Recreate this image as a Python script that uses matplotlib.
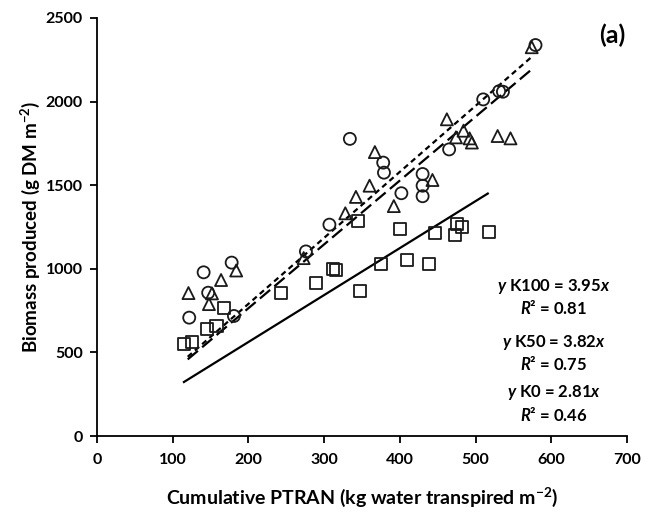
import matplotlib.pyplot as plt
import numpy as np

plt.rcParams["font.family"] = ["Lato", "DejaVu Sans"]
plt.rcParams["mathtext.fontset"] = "custom"
plt.rcParams["mathtext.rm"] = "Lato:bold"
plt.rcParams["mathtext.it"] = "Lato:italic:bold"
plt.rcParams["mathtext.bf"] = "Lato:bold"

# K100 (circles)
k100_x = [122, 141, 147, 178, 181, 276, 307, 334, 378, 379, 402, 430, 430, 430,
          465, 510, 531, 536, 579]
k100_y = [708, 979, 857, 1037, 718, 1104, 1264, 1777, 1635, 1575, 1452, 1567,
          1497, 1434, 1714, 2013, 2062, 2059, 2338]

# K50 (triangles)
k50_x = [121, 148, 152, 164, 184, 273, 328, 342, 360, 367, 392, 443, 462, 474,
         484, 492, 495, 529, 546, 574]
k50_y = [855, 789, 853, 933, 990, 1064, 1332, 1430, 1497, 1698, 1375, 1531,
         1894, 1786, 1826, 1780, 1755, 1794, 1780, 2325]

# K0 (squares)
k0_x = [115, 126, 145, 158, 168, 243, 289, 312, 316, 345, 348, 375, 400, 410,
        438, 446, 473, 476, 482, 517]
k0_y = [548, 560, 640, 660, 765, 853, 917, 999, 993, 1287, 870, 1031, 1240,
        1053, 1030, 1217, 1204, 1267, 1250, 1219]

# regression through origin
slopes = {"K100": 3.95, "K50": 3.82, "K0": 2.81}
r2 = {"K100": 0.81, "K50": 0.75, "K0": 0.46}
fit_range = {"K100": (120, 576), "K50": (120, 576), "K0": (115, 516)}

fig = plt.figure(figsize=(6.54, 5.13), dpi=100)
ax = fig.add_axes([0.148, 0.150, 0.811, 0.815])

mk = dict(facecolor="none", edgecolor="#1a1a1a", linewidths=1.3, s=75, zorder=3)
ax.scatter(k100_x, k100_y, marker="o", **mk)
ax.scatter(k50_x, k50_y, marker="^", **mk)
ax.scatter(k0_x, k0_y, marker="s", **mk)

styles = {
    "K100": dict(linestyle=(0, (2.5, 1.8))),
    "K50": dict(linestyle=(0, (6, 2.5))),
    "K0": dict(linestyle="-"),
}
for key in ["K100", "K50", "K0"]:
    xs = np.array(fit_range[key], dtype=float)
    ax.plot(xs, slopes[key] * xs, color="black", lw=1.6, zorder=2, **styles[key])

ax.set_xlim(0, 700)
ax.set_ylim(0, 2500)
ax.set_xticks(range(0, 701, 100))
ax.set_yticks(range(0, 2501, 500))
for side in ["top", "right"]:
    ax.spines[side].set_visible(False)
for side in ["left", "bottom"]:
    ax.spines[side].set_linewidth(1.3)
ax.tick_params(direction="out", length=5, width=1.3, labelsize=11.5, pad=7)
ax.tick_params(axis="y", pad=5)
for lbl in ax.get_xticklabels() + ax.get_yticklabels():
    lbl.set_fontweight("bold")

ax.set_xlabel("Cumulative PTRAN (kg water transpired m$^{\\mathbf{-2}}$)",
              fontsize=14, fontweight="bold", labelpad=14)
ax.set_ylabel("Biomass produced (g DM m$^{\\mathbf{-2}}$)",
              fontsize=13.5, fontweight="bold", labelpad=3)

ypos = {"K100": 895, "K50": 562, "K0": 258}
for key in ["K100", "K50", "K0"]:
    yy = ypos[key]
    ax.text(603, yy, f"$\\mathit{{y}}$ {key} = {slopes[key]:.2f}$\\mathit{{x}}$",
            ha="center", va="center", fontsize=12, fontweight="bold")
    ax.text(603, yy - 130, f"$\\mathit{{R}}$² = {r2[key]:.2f}",
            ha="center", va="center", fontsize=12, fontweight="bold")

ax.text(697, 2395, "(a)", ha="right", va="center", fontsize=18, fontweight="bold")

fig.savefig("out.png", dpi=100)
